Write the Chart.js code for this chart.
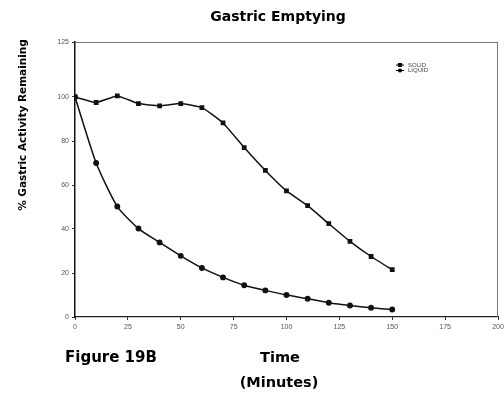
<!DOCTYPE html>
<html>
<head>
<meta charset="utf-8">
<script src="https://cdn.jsdelivr.net/npm/chart.js@4"></script>
<style>
  html, body { margin: 0; padding: 0; background: #fff; }
  #wrap { width: 504px; height: 397px; }
</style>
</head>
<body>
<div id="wrap"><canvas id="myChart" width="504" height="397"></canvas></div>
<script>
var minutes = [0, 10, 20, 30, 40, 50, 60, 70, 80, 90, 100, 110, 120, 130, 140, 150];
var solid = [100, 97.5, 100.5, 97, 96, 97, 95.2, 88.2, 77, 66.6, 57.3, 50.6, 42.4, 34.4, 27.5, 21.5];
var liquid = [100, 70, 50.2, 40.2, 33.9, 27.8, 22.3, 18, 14.4, 12.1, 10, 8.3, 6.5, 5.2, 4.2, 3.4];
var yTicks = [0, 20, 40, 60, 80, 100, 125];
var xTicks = [0, 25, 50, 75, 100, 125, 150, 175, 200];

function toPoints(ys) {
  return minutes.map(function(m, i) { return { x: m, y: ys[i] }; });
}

var tickFont = { family: "Liberation Sans", size: 7 };

// titles, frame and legend drawn on top
var decorations = {
  id: 'decorations',
  afterDraw: function(chart) {
    var c = chart.ctx;
    var a = chart.chartArea;
    c.save();
    c.strokeStyle = '#777';
    c.lineWidth = 1;
    c.beginPath();
    c.moveTo(a.left, a.top + 0.5);
    c.lineTo(a.right, a.top + 0.5);
    c.moveTo(a.right - 0.5, a.top);
    c.lineTo(a.right - 0.5, a.bottom);
    c.stroke();

    c.fillStyle = '#000';
    c.textBaseline = 'middle';
    c.textAlign = 'center';
    c.font = 'bold 14px "DejaVu Sans"';
    c.fillText('Gastric Emptying', 278, 17);
    c.font = 'bold 14.5px "DejaVu Sans"';
    c.fillText('Time', 280, 358);
    c.fillText('(Minutes)', 279, 383);
    c.textAlign = 'left';
    c.font = 'bold 15px "DejaVu Sans"';
    c.fillText('Figure 19B', 65, 358);

    c.save();
    c.translate(23, 125);
    c.rotate(-Math.PI / 2);
    c.textAlign = 'center';
    c.font = 'bold 10.5px "DejaVu Sans"';
    c.fillText('% Gastric Activity Remaining', 0, 0);
    c.restore();

    // legend
    c.font = '6px "Liberation Sans"';
    chart.data.datasets.forEach(function(ds, i) {
      var y = 65 + i * 5.5;
      c.strokeStyle = '#000';
      c.lineWidth = 1;
      c.beginPath();
      c.moveTo(396, y);
      c.lineTo(404, y);
      c.stroke();
      c.fillStyle = '#000';
      c.beginPath();
      if (ds.pointStyle === 'rect') {
        c.rect(398, y - 2, 4, 4);
      } else {
        c.arc(400, y, 2, 0, Math.PI * 2);
      }
      c.fill();
      c.fillStyle = '#444';
      c.fillText(ds.label, 408, y);
    });
    c.restore();
  }
};

var ctx = document.getElementById("myChart").getContext('2d');
var myChart = new Chart(ctx, {
  type: 'line',
  data: {
    datasets: [{
      label: 'SOLID',
      data: toPoints(solid),
      borderColor: '#111',
      backgroundColor: '#111',
      borderWidth: 1.5,
      pointStyle: 'rect',
      pointRadius: 2.3,
      tension: 0.15
    }, {
      label: 'LIQUID',
      data: toPoints(liquid),
      borderColor: '#111',
      backgroundColor: '#111',
      borderWidth: 1.5,
      pointStyle: 'circle',
      pointRadius: 2.2,
      tension: 0.2
    }]
  },
  options: {
    responsive: false,
    animation: false,
    layout: { padding: { top: 42, right: 6, left: 0, bottom: 0 } },
    plugins: {
      legend: { display: false },
      title: { display: false },
      tooltip: { enabled: false }
    },
    scales: {
      x: {
        type: 'linear',
        min: 0,
        max: 200,
        afterFit: function(scale) {
          scale.height = 80;
          scale.paddingRight = 0;
        },
        afterBuildTicks: function(scale) {
          scale.ticks = xTicks.map(function(v) { return { value: v }; });
        },
        grid: { drawOnChartArea: false, tickLength: 3, color: '#333' },
        border: { color: '#222', width: 1.2 },
        ticks: { font: tickFont, color: '#555', padding: 3, maxRotation: 0 }
      },
      y: {
        type: 'linear',
        min: 0,
        max: 125,
        afterFit: function(scale) { scale.width = 75; },
        afterBuildTicks: function(scale) {
          scale.ticks = yTicks.map(function(v) { return { value: v }; });
        },
        grid: { drawOnChartArea: false, tickLength: 3, color: '#333' },
        border: { color: '#111', width: 1.5 },
        ticks: { font: tickFont, color: '#555', padding: 3 }
      }
    }
  },
  plugins: [decorations]
});
</script>
</body>
</html>
